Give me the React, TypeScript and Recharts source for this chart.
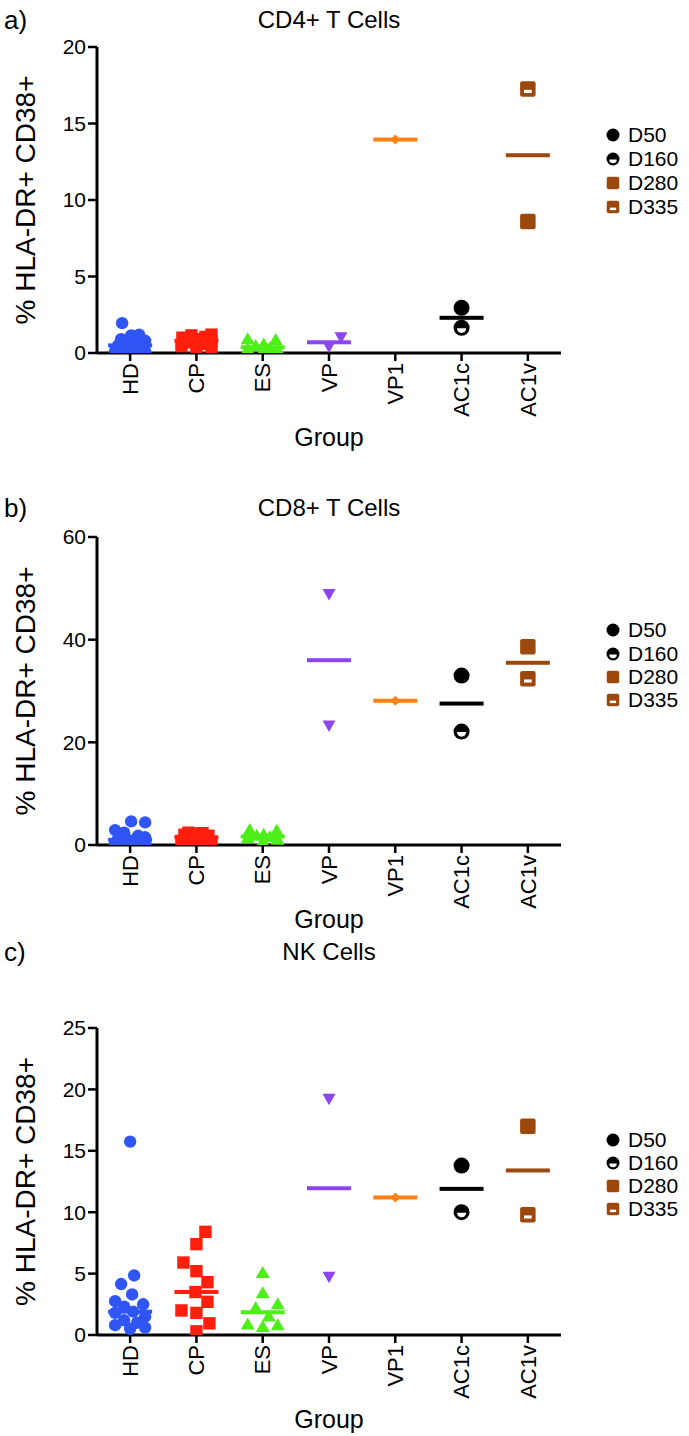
import { ScatterChart, Scatter, XAxis, YAxis } from 'recharts';

const CATEGORIES = ['HD', 'CP', 'ES', 'VP', 'VP1', 'AC1c', 'AC1v'];
const AC1C_DAYS = ['D50', 'D160'];
const AC1V_DAYS = ['D280', 'D335'];
const LEGEND_DAYS = ['D50', 'D160', 'D280', 'D335'];

// a) CD4+ T cells
const cd4HD = [1.95, 1.2, 1.15, 0.9, 0.8, 0.7, 0.6, 0.5, 0.4, 0.35, 0.3, 0.2, 0.15, 0.1, 0.05];
const cd4CP = [1.2, 1.15, 1.05, 1.0, 0.9, 0.8, 0.7, 0.6, 0.45, 0.3, 0.2];
const cd4ES = [0.9, 0.85, 0.55, 0.45, 0.3, 0.25, 0.2, 0.1];
const cd4VP = [1.0, 0.4];
const cd4VP1 = [13.95];
const cd4AC1c = [2.95, 1.65];
const cd4AC1v = [8.6, 17.25];
const CD4_TICKS = [0, 5, 10, 15, 20];

// b) CD8+ T cells
const cd8HD = [4.6, 4.4, 2.9, 2.4, 1.8, 1.5, 1.2, 1.0, 0.8, 0.6, 0.5, 0.4, 0.3, 0.2, 0.1];
const cd8CP = [2.4, 2.3, 2.2, 2.0, 1.8, 1.5, 1.2, 1.0, 0.8, 0.6, 0.5];
const cd8ES = [2.9, 2.8, 2.0, 1.8, 1.5, 1.3, 1.0, 0.6];
const cd8VP = [48.8, 23.2];
const cd8VP1 = [28.1];
const cd8AC1c = [33.0, 22.1];
const cd8AC1v = [38.6, 32.4];
const CD8_TICKS = [0, 20, 40, 60];

// c) NK cells
const nkHD = [15.75, 4.85, 4.15, 3.3, 2.75, 2.5, 2.3, 1.9, 1.8, 1.5, 1.2, 1.0, 0.8, 0.6, 0.5];
const nkCP = [8.4, 7.4, 5.9, 5.2, 4.3, 3.5, 2.7, 2.0, 1.8, 0.95, 0.3];
const nkES = [5.05, 3.4, 2.5, 2.2, 1.5, 0.85, 0.8, 0.65];
const nkVP = [19.2, 4.7];
const nkVP1 = [11.2];
const nkAC1c = [13.8, 10.0];
const nkAC1v = [17.0, 9.8];
const NK_TICKS = [0, 5, 10, 15, 20, 25];

const COLORS: Record<string, string> = {
  HD: '#3055f5',
  CP: '#ff1f0c',
  ES: '#4def18',
  VP: '#8c45f0',
  VP1: '#ff8014',
  AC1c: '#000000',
  AC1v: '#9c480c',
};
const KINDS: Record<string, string> = {
  HD: 'circle',
  CP: 'square',
  ES: 'triangle',
  VP: 'invtriangle',
  VP1: 'diamond',
};

const W = 689;
const PLOT_LEFT = 97;
const PLOT_RIGHT = 561;
const FONT = '"Liberation Sans", Arial, Helvetica, sans-serif';

function median(vals: number[]) {
  const s = [...vals].sort((a, b) => a - b);
  const m = Math.floor(s.length / 2);
  return s.length % 2 ? s[m] : (s[m - 1] + s[m]) / 2;
}

// beeswarm-ish layout: lowest values first near the centre, spread capped at +-maxOff px
function swarm(vals: number[], pxPerY: number, minDist: number, maxOff: number) {
  const order = vals.map((_, i) => i).sort((a, b) => vals[a] - vals[b]);
  const placed: { x: number; y: number }[] = [];
  const out = vals.map(() => 0);
  let flip = 1;
  for (const i of order) {
    const y = vals[i] * pxPerY;
    const cands: number[] = [0];
    for (let k = 1; k <= maxOff; k++) cands.push(flip * k, -flip * k);
    const gap = (x: number) => placed.reduce((m, p) => Math.min(m, Math.hypot(p.x - x, p.y - y)), Infinity);
    let chosen = cands.find(x => gap(x) >= minDist);
    if (chosen === undefined) {
      let best = -1;
      chosen = 0;
      for (const x of cands) {
        const g = gap(x);
        if (g > best + 0.01) { best = g; chosen = x; }
      }
    }
    if (chosen !== 0) flip = -flip;
    placed.push({ x: chosen, y });
    out[i] = chosen;
  }
  return out;
}

function marker(kind: string, color: string, cx: number, cy: number, small = false) {
  switch (kind) {
    case 'circle':
      return <circle cx={cx} cy={cy} r={6.2} fill={color} />;
    case 'square':
      return <rect x={cx - 6.2} y={cy - 6.2} width={12.4} height={12.4} fill={color} />;
    case 'triangle':
      return <path d={`M${cx},${cy - 7} L${cx + 7},${cy + 5} L${cx - 7},${cy + 5} Z`} fill={color} />;
    case 'invtriangle':
      return <path d={`M${cx - 6.5},${cy - 5.5} L${cx + 6.5},${cy - 5.5} L${cx},${cy + 6} Z`} fill={color} />;
    case 'diamond':
      return <path d={`M${cx},${cy - 5} L${cx + 5},${cy} L${cx},${cy + 5} L${cx - 5},${cy} Z`} fill={color} />;
    case 'D50': {
      const r = small ? 6.5 : 8;
      return <circle cx={cx} cy={cy} r={r} fill={color} />;
    }
    case 'D160': {
      const r = small ? 6.5 : 8;
      const h = r * 0.58;
      return (
        <g>
          <circle cx={cx} cy={cy} r={r} fill={color} />
          <path d={`M${cx - h},${cy + 0.5} A${h},${h} 0 0 0 ${cx + h},${cy + 0.5} Z`} fill="#fff" />
        </g>
      );
    }
    case 'D280': {
      const s = small ? 12.5 : 15.5;
      return <rect x={cx - s / 2} y={cy - s / 2} width={s} height={s} rx={2} fill={color} />;
    }
    case 'D335': {
      const s = small ? 12.5 : 15.5;
      return (
        <g>
          <rect x={cx - s / 2} y={cy - s / 2} width={s} height={s} rx={2} fill={color} />
          <rect x={cx - s * 0.25} y={cy + s * 0.05} width={s * 0.5} height={s * 0.2} fill="#fff" />
        </g>
      );
    }
    default:
      return <g />;
  }
}

const XTick = (props: any) => {
  const { x, y, payload } = props;
  const label = CATEGORIES[Math.round(payload.value - 0.5)];
  return (
    <text
      x={x}
      y={y}
      transform={`rotate(-90 ${x} ${y})`}
      textAnchor="end"
      dy="0.35em"
      fontSize={22}
      fill="#000"
      fontFamily={FONT}
    >
      {label}
    </text>
  );
};

interface PanelCfg {
  tag: string;
  title: string;
  top: number;
  titleY: number;
  plotTop: number;
  plotBottom: number;
  groupGap: number;
  yMax: number;
  ticks: number[];
  legendY: number[];
  groups: number[][];
}

const PANELS: PanelCfg[] = [
  {
    tag: 'a)', title: 'CD4+ T Cells', top: 0, titleY: 20, plotTop: 47, plotBottom: 353, groupGap: 84,
    yMax: 20, ticks: CD4_TICKS, legendY: [135, 159, 183, 207],
    groups: [cd4HD, cd4CP, cd4ES, cd4VP, cd4VP1, cd4AC1c, cd4AC1v],
  },
  {
    tag: 'b)', title: 'CD8+ T Cells', top: 480, titleY: 508, plotTop: 537, plotBottom: 845, groupGap: 74,
    yMax: 60, ticks: CD8_TICKS, legendY: [630, 654, 677, 700],
    groups: [cd8HD, cd8CP, cd8ES, cd8VP, cd8VP1, cd8AC1c, cd8AC1v],
  },
  {
    tag: 'c)', title: 'NK Cells', top: 930, titleY: 952, plotTop: 1028, plotBottom: 1335, groupGap: 84,
    yMax: 25, ticks: NK_TICKS, legendY: [1140, 1163, 1186, 1209],
    groups: [nkHD, nkCP, nkES, nkVP, nkVP1, nkAC1c, nkAC1v],
  },
];

function Panel({ cfg }: { cfg: PanelCfg }) {
  const H = cfg.plotBottom - cfg.top + 100;
  const pxPerY = (cfg.plotBottom - cfg.plotTop) / cfg.yMax;
  const pxPerX = (PLOT_RIGHT - PLOT_LEFT) / CATEGORIES.length;
  const plotMidY = (cfg.plotTop + cfg.plotBottom) / 2 - cfg.top;
  const plotBottomRel = cfg.plotBottom - cfg.top;

  const pointSeries = cfg.groups.map((vals, gi) => {
    const cat = CATEGORIES[gi];
    const offs = swarm(vals, pxPerY, 15, 15);
    return vals.map((v, i) => ({
      x: gi + 0.5 + offs[i] / pxPerX,
      y: v,
      kind: cat === 'AC1c' ? AC1C_DAYS[i] : cat === 'AC1v' ? AC1V_DAYS[i] : KINDS[cat],
    }));
  });

  return (
    <div style={{ position: 'absolute', left: 0, top: cfg.top, width: W, height: H }}>
      <div style={{ position: 'absolute', left: 4, top: cfg.titleY - cfg.top, transform: 'translateY(-50%)', fontSize: 26, lineHeight: '30px' }}>
        {cfg.tag}
      </div>
      <div style={{ position: 'absolute', left: (PLOT_LEFT + PLOT_RIGHT) / 2, top: cfg.titleY - cfg.top, transform: 'translate(-50%,-50%)', fontSize: 24, lineHeight: '28px', whiteSpace: 'nowrap' }}>
        {cfg.title}
      </div>
      <ScatterChart
        width={W}
        height={H}
        margin={{ top: cfg.plotTop - cfg.top, right: W - PLOT_RIGHT, bottom: 5, left: 0 }}
        style={{ position: 'absolute', left: 0, top: 0 }}
      >
        <XAxis
          type="number"
          dataKey="x"
          domain={[0, CATEGORIES.length]}
          ticks={CATEGORIES.map((_, i) => i + 0.5)}
          height={95}
          allowDataOverflow
          axisLine={{ stroke: '#000', strokeWidth: 3 }}
          tickLine={{ stroke: '#000', strokeWidth: 2.5 }}
          tickSize={8}
          tickMargin={2}
          tick={<XTick />}
          interval={0}
          label={{
            content: () => (
              <text x={(PLOT_LEFT + PLOT_RIGHT) / 2} y={plotBottomRel + cfg.groupGap} textAnchor="middle" dominantBaseline="central" fontSize={25} fill="#000" fontFamily={FONT}>
                Group
              </text>
            ),
          }}
        />
        <YAxis
          type="number"
          dataKey="y"
          domain={[0, cfg.yMax]}
          ticks={cfg.ticks}
          width={PLOT_LEFT}
          allowDataOverflow
          axisLine={{ stroke: '#000', strokeWidth: 3 }}
          tickLine={{ stroke: '#000', strokeWidth: 2.5 }}
          tickSize={9}
          tickMargin={2}
          tick={{ fill: '#000', fontSize: 21, fontFamily: FONT }}
          interval={0}
          label={{
            content: () => (
              <text x={25} y={plotMidY} transform={`rotate(-90 25 ${plotMidY})`} textAnchor="middle" dominantBaseline="central" fontSize={28} fill="#000" fontFamily={FONT}>
                % HLA-DR+ CD38+
              </text>
            ),
          }}
        />
        {pointSeries.map((data, gi) => {
          const cat = CATEGORIES[gi];
          const color = COLORS[cat];
          const med = [{ x: gi + 0.5, y: median(cfg.groups[gi]) }];
          const pts = (
            <Scatter
              key={`p-${cat}`}
              data={data}
              isAnimationActive={false}
              shape={(p: any) => marker(p.payload.kind, color, p.cx, p.cy)}
            />
          );
          const line = (
            <Scatter
              key={`m-${cat}`}
              data={med}
              isAnimationActive={false}
              shape={(p: any) => <rect x={p.cx - 22} y={p.cy - 2} width={44} height={4} fill={color} />}
            />
          );
          return cat === 'VP1' ? [line, pts] : [pts, line];
        })}
      </ScatterChart>
      {LEGEND_DAYS.map((d, i) => (
        <div key={d} style={{ position: 'absolute', left: 604, top: cfg.legendY[i] - cfg.top - 12, height: 24, display: 'flex', alignItems: 'center' }}>
          <svg width={18} height={18} style={{ display: 'block' }}>
            {marker(d, i < 2 ? COLORS.AC1c : COLORS.AC1v, 9, 9, true)}
          </svg>
          <span style={{ marginLeft: 6, fontSize: 21, lineHeight: '24px' }}>{d}</span>
        </div>
      ))}
    </div>
  );
}

export default function App() {
  return (
    <div style={{ position: 'absolute', left: 0, top: 0, width: W, height: 1436, background: '#fff', fontFamily: FONT, color: '#000' }}>
      {PANELS.map(cfg => (
        <Panel key={cfg.tag} cfg={cfg} />
      ))}
    </div>
  );
}
